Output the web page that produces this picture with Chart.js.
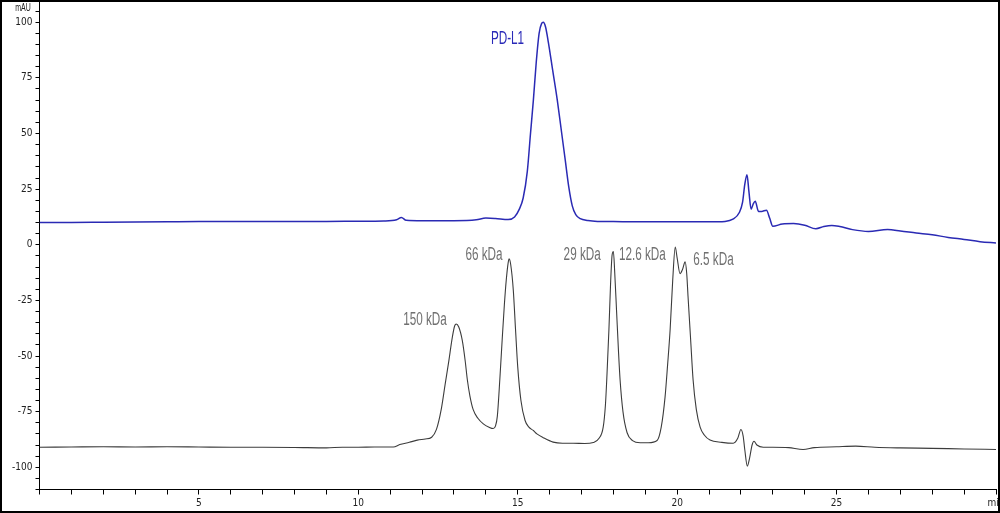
<!DOCTYPE html>
<html><head><meta charset="utf-8">
<script src="https://cdn.jsdelivr.net/npm/chart.js@4"></script>
<style>html,body{margin:0;padding:0;background:#fff}#wrap{position:relative;width:1000px;height:513px}</style>
</head><body><div id="wrap"><canvas id="c" width="1000" height="513"></canvas></div>
<script>
// ---- data (retention time in min, absorbance in mAU) ----
const pdl1Time  = [0,1,2,3,4,5,6,7,8,9,10,10.8,11.2,11.35,11.5,12,13,13.7,14.0,14.3,14.7,14.9,15.05,15.17,15.3,15.4,15.49,15.58,15.67,15.75,15.8,15.87,15.96,16.1,16.24,16.37,16.49,16.6,16.71,16.82,16.96,17.2,17.5,18,19,20,21,21.5,21.75,21.95,22.05,22.12,22.19,22.25,22.32,22.39,22.45,22.55,22.65,22.8,22.9,23.0,23.3,23.65,24.0,24.35,24.6,24.85,25.1,25.5,26.0,26.6,27.0,27.5,28.0,28.5,29.0,29.5,30];
const pdl1Value = [10.0,10.0,10.1,10.2,10.3,10.4,10.4,10.5,10.5,10.5,10.6,10.7,11.2,12.3,11.0,10.8,10.8,11.2,12.0,11.8,11.3,12.5,16,21,33,50,65,82,95,99.5,100,98,91,78,65,51,38,26,17.5,13.5,11.7,10.9,10.5,10.4,10.3,10.3,10.3,10.5,11.5,14.5,19,27,31.5,24,16,18.5,19.5,15,15,15.5,12,8.3,9.3,9.5,8.8,7.2,8.2,8.7,8.2,6.8,6.0,6.8,6.2,5.3,4.5,3.3,2.4,1.4,0.8];

const stdTime  = [0,1,2,3,4,5,6,7,8,9,9.5,10,10.5,11.1,11.3,11.6,11.85,12.1,12.3,12.45,12.6,12.72,12.83,12.95,13.02,13.07,13.15,13.26,13.35,13.42,13.5,13.6,13.75,13.92,14.1,14.23,14.3,14.36,14.44,14.51,14.58,14.64,14.7,14.73,14.78,14.86,14.93,15.0,15.1,15.23,15.35,15.49,15.6,15.8,16.11,16.4,16.74,17.1,17.37,17.55,17.68,17.75,17.8,17.86,17.91,17.96,18.0,18.04,18.1,18.16,18.21,18.3,18.43,18.6,18.84,19.1,19.37,19.5,19.62,19.7,19.78,19.86,19.94,20.0,20.09,20.17,20.25,20.3,20.34,20.42,20.5,20.6,20.72,20.85,21.03,21.4,21.76,21.9,22.0,22.07,22.12,22.2,22.27,22.35,22.41,22.5,22.7,23.0,23.5,23.95,24.3,25.0,25.6,26.2,27,28,29,30];
const stdValue = [-91.0,-90.9,-90.8,-90.9,-90.8,-90.9,-91.0,-91.0,-91.1,-91.3,-91.0,-91.0,-90.9,-90.9,-89.8,-88.8,-87.8,-87.3,-86.5,-83,-74,-63,-53,-41.4,-36.5,-35.6,-37,-43,-52,-60.8,-68,-74,-78,-80.5,-82,-82.6,-81.5,-77,-60,-43,-27,-15.8,-8,-6.3,-9,-20.3,-38,-55,-70,-79,-82,-83.5,-85,-86.7,-88.7,-89.2,-89.2,-89.3,-88.9,-87,-82,-72,-58,-38,-18,-4.5,-3,-12,-30,-48,-60.8,-75,-84.5,-88,-89,-89,-88,-82,-68.5,-54,-38,-16,-1,-6,-13,-11,-7.7,-13,-23,-42,-60.8,-74,-82,-85.5,-87.8,-88.8,-89.2,-87,-83,-86,-92,-99.5,-96,-90,-88.3,-90,-91,-91,-91.2,-92,-91.2,-90.8,-90.5,-91,-91.3,-91.5,-91.8,-92];

const xTickLabels = {5:'5',10:'10',15:'15',20:'20',25:'25',30:'min'};
const yTickLabels = [-100,-75,-50,-25,0,25,50,75,100];
const yUnitLabel = 'mAU';
const peakLabels     = ['PD-L1','150 kDa','66 kDa','29 kDa','12.6 kDa','6.5 kDa'];
const peakLabelTime  = [14.68,12.09,13.94,17.02,18.91,21.14];
const peakLabelValue = [92.6,-33.8,-4.4,-4.4,-4.8,-6.9];
// ---------------------------------------------------------

const tickFont = {family:"'Liberation Sans Narrow','DejaVu Sans Condensed','Liberation Sans',sans-serif", size:10};

const overlay = {
  id:'overlay',
  afterDraw(chart){
    const ctx = chart.ctx, xs = chart.scales.x, ys = chart.scales.y;
    ctx.save();
    ctx.textAlign='center'; ctx.textBaseline='middle';
    ctx.font = "18px 'Liberation Sans', Arial, sans-serif";
    peakLabels.forEach((t,i)=>{
      const px = xs.getPixelForValue(peakLabelTime[i]);
      const py = ys.getPixelForValue(peakLabelValue[i]);
      ctx.save();
      ctx.translate(px,py); ctx.scale(0.65,1);
      ctx.fillStyle = i===0 ? '#2a2ab8' : '#707070';
      ctx.fillText(t,0,0);
      ctx.restore();
    });
    ctx.save();
    ctx.translate(23,8); ctx.scale(0.7,1);
    ctx.font = "10px 'Liberation Sans', Arial, sans-serif";
    ctx.fillStyle='#222';
    ctx.fillText(yUnitLabel,0,0);
    ctx.restore();
    ctx.strokeStyle='#000'; ctx.lineWidth=2;
    ctx.strokeRect(1,1,998,511);
    ctx.restore();
  }
};

new Chart(document.getElementById('c'), {
  type:'line',
  data:{datasets:[
    {data:pdl1Time.map((t,i)=>({x:t,y:pdl1Value[i]})), borderColor:'#2a2ab4', borderWidth:1.5, pointRadius:0, cubicInterpolationMode:'monotone', fill:false},
    {data:stdTime.map((t,i)=>({x:t,y:stdValue[i]})), borderColor:'#3c3c3c', borderWidth:1.1, pointRadius:0, cubicInterpolationMode:'monotone', fill:false}
  ]},
  options:{
    responsive:false, animation:false, devicePixelRatio:1,
    layout:{autoPadding:false, padding:{top:0,right:4,left:0,bottom:0}},
    plugins:{legend:{display:false}, tooltip:{enabled:false}},
    scales:{
      x:{type:'linear', min:0, max:30,
        grid:{drawOnChartArea:false, drawTicks:true, tickLength:5, color:'#000'},
        border:{display:true,color:'#000',width:1},
        ticks:{stepSize:1, autoSkip:false, maxRotation:0, padding:3, color:'#222', font:tickFont,
          callback:v=>xTickLabels[v]||''},
        afterFit(a){a.height=23.5; a.paddingLeft=0; a.paddingRight=0;}
      },
      y:{type:'linear', min:-110, max:110,
        grid:{drawOnChartArea:false, drawTicks:true, tickLength:4, color:'#000'},
        border:{display:true,color:'#000',width:1},
        ticks:{stepSize:5, autoSkip:false, padding:3, color:'#222', font:tickFont,
          callback:v=>yTickLabels.includes(v)?String(v):''},
        afterFit(a){a.width=39.5; a.paddingTop=0; a.paddingBottom=0;}
      }
    }
  },
  plugins:[overlay]
});
</script></body></html>
